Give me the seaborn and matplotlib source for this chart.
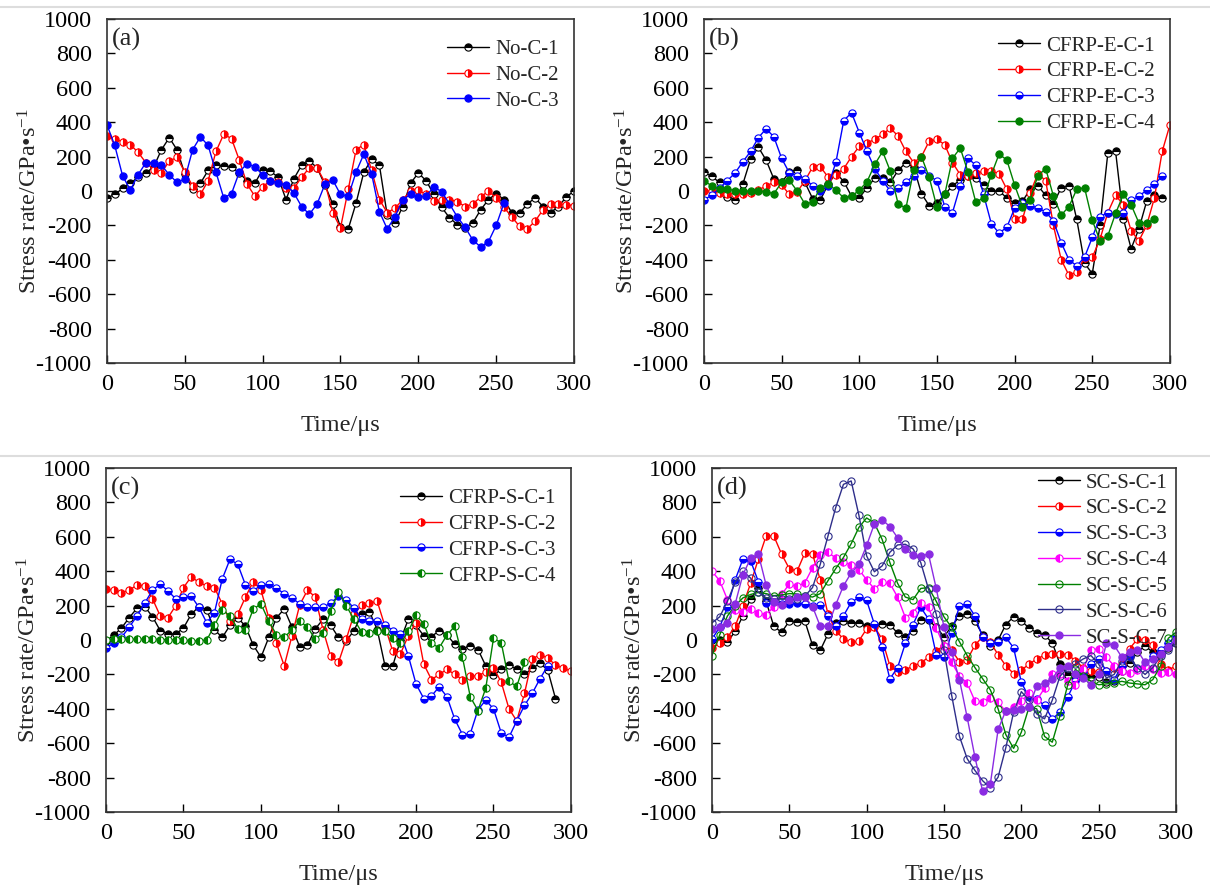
import numpy as np
import seaborn as sns
import matplotlib.pyplot as plt
from matplotlib.lines import Line2D

nan = np.nan

### Data (5 us steps)
time_us = np.arange(0, 301, 5)

# (a) no coating
no_c_1 = [-40, -20, 15, 45, 80, 105, 140, 240, 310, 240, 100, 10, 45, 120, 150, 145, 140, 105, 60, 45,
          125, 115, 80, -50, 70, 150, 175, 135, 35, -75, -210, -220, -70, 110, 185, 150, -140, -185, -90, 45,
          105, 60, -20, -95, -155, -195, -215, -185, -110, -50, -15, -50, -125, -130, -75, -40, -90, -125, -90, -35,
          0]
no_c_2 = [320, 300, 288, 270, 225, 165, 125, 105, 175, 195, 110, 30, -20, 60, 230, 330, 305, 180, 40, -30,
          25, 60, 55, 20, 15, 80, 135, 135, 50, -125, -215, 10, 240, 270, 120, -50, -125, -100, -50, 0,
          5, -20, -60, -55, -50, -62, -90, -75, -35, 0, -40, -95, -150, -205, -220, -175, -110, -75, -75, -80,
          -85]
no_c_3 = [385, 265, 90, 5, 95, 165, 165, 150, 95, 50, 70, 240, 315, 265, 110, -40, -15, 110, 160, 140,
          95, 60, 48, 35, -10, -90, -135, -75, 40, 65, -20, -30, 110, 215, 100, -120, -220, -150, -50, -20,
          -35, -30, 25, -5, -75, -150, -210, -285, -325, -295, -200, -70, nan, nan, nan, nan, nan, nan, nan, nan,
          nan]

# (b) CFRP-E
cfrp_e_1 = [110, 85, 50, -35, -55, 40, 185, 255, 180, 70, 50, 110, 125, 50, -45, -50, 40, 105, 55, -30,
            -40, 20, 75, 75, 50, 120, 165, 140, -15, -85, -70, -20, 30, 65, 90, 75, 35, 0, 0, -40,
            -72, -60, 10, 30, -25, -75, 20, 30, -165, -420, -480, -200, 220, 230, -160, -335, -220, -60, -25, -40,
            nan]
cfrp_e_2 = [0, 0, -10, -15, -15, -15, -10, 5, 30, 50, 35, -20, -5, 60, 140, 140, 80, 95, 130, 200,
            260, 280, 300, 330, 365, 320, 230, 165, 200, 290, 300, 270, 165, 95, 85, 103, 115, 115, 100, 10,
            -160, -165, -10, 100, 60, -200, -400, -490, -470, -390, -385, -280, -125, -25, -80, -230, -290, -200, -40, 230,
            385]
cfrp_e_3 = [-50, -25, 15, 60, 105, 170, 230, 310, 362, 315, 190, 105, 90, 72, 30, 0, 30, 170, 410, 455,
            340, 230, 130, 60, 0, 15, 50, 90, 125, 90, 58, -90, -125, 30, 190, 150, -20, -190, -245, -210,
            -100, -70, -85, -100, -120, -175, -300, -400, -435, -385, -270, -150, -125, -135, -125, -55, -30, 5, 40, 85,
            nan]
cfrp_e_4 = [60, 30, 12, 10, 3, 0, 0, 0, -5, -15, 50, 62, 0, -75, -65, 20, 40, 5, -40, -30,
            5, 55, 155, 230, 115, -75, -100, 120, 200, 80, -95, -20, 190, 250, 110, -65, -40, 95, 215, 180,
            35, -90, -50, 90, 130, -30, -140, -90, 10, 20, -170, -290, -260, -130, -20, -80, -185, -185, -165, nan,
            nan]

# (c) CFRP-S
cfrp_s_1 = [-5, 28, 70, 130, 185, 195, 135, 55, 35, 35, 70, 150, 195, 175, 60, 15, 85, 130, 80, -30,
            -100, 15, 130, 180, 75, -40, -30, 65, 120, 85, 15, -5, 55, 150, 165, 60, -150, -150, 0, 120,
            85, 25, 20, 55, 30, -25, -50, -35, -55, -150, -205, -170, -145, -170, -200, -165, -135, -175, -340, nan,
            nan]
cfrp_s_2 = [295, 290, 276, 290, 320, 315, 240, 140, 130, 200, 305, 368, 335, 315, 305, 210, 110, 150, 250, 340,
            290, 130, -20, -150, 25, 205, 290, 250, 60, -95, -130, 5, 150, 205, 215, 225, 80, -65, -80, 25,
            100, -140, -230, -200, -170, -200, -230, -210, -208, -185, -160, -245, -400, -470, -310, -110, -85, -105, -145, -165,
            -180]
cfrp_s_3 = [-45, -18, 15, 75, 140, 215, 290, 325, 285, 240, 252, 255, 190, 100, 160, 355, 470, 440, 320, 285,
            320, 325, 300, 270, 245, 210, 190, 190, 190, 215, 255, 235, 185, 120, 110, 110, 90, 55, 35, -90,
            -255, -340, -325, -272, -330, -460, -550, -545, -405, -350, -400, -540, -565, -470, -380, -310, -225, -150, nan, nan,
            nan]
cfrp_s_4 = [0, 5, 5, 5, 5, 5, 5, 3, 3, 0, 0, -5, -5, 0, 85, 175, 140, 65, 60, 180,
            210, 110, 30, 15, 60, 110, 75, 5, 40, 170, 280, 200, 120, 45, 40, 50, 55, 10, -20, 50,
            145, 95, -20, -45, 30, 80, -100, -330, -410, -280, 10, -15, -240, -270, -130, nan, nan, nan, nan, nan,
            nan]

# (d) SC-S
sc_s_1 = [0, 2, -10, 50, 140, 240, 300, 225, 80, 45, 110, 105, 112, -30, -60, 35, 102, 110, 102, 100,
          80, 85, 95, 90, 40, 15, 55, 115, 115, 75, 20, 80, 140, 150, 110, 30, -35, 0, 90, 135,
          112, 70, 42, 28, -15, -140, -205, -225, -200, -212, -215, -245, -240, -180, -135, -70, -35, -70, -80, -45,
          -20]
sc_s_2 = [-45, -20, 15, 80, 200, 330, 470, 605, 605, 500, 415, 400, 505, 500, 350, 150, 55, 6, -14, -5,
          65, 78, 5, -149, -188, -175, -150, -133, -100, -62, -33, -60, -125, -115, -30, 20, -14, -85, -150, -195,
          -175, -140, -110, -88, -80, -80, -85, -120, -160, -180, -185, -180, -160, -140, -50, 5, 0, -30, -140, -175,
          -150]
sc_s_3 = [5, 75, 190, 350, 470, 460, 340, 215, 219, 209, 212, 217, 209, 200, 205, 140, 83, 141, 219, 248,
          230, 93, -40, -226, -160, -20, 90, 190, 122, -85, -100, 40, 199, 210, 140, 15, -20, -10, 15, -45,
          -246, -333, -345, -380, -458, -420, -330, -240, -188, -140, -110, -180, -230, -150, -90, -170, -150, -90, -60, -20,
          25]
sc_s_4 = [400, 345, 235, 175, 165, 178, 160, 145, 195, 265, 325, 312, 332, 420, 495, 509, 478, 455, 437, 410,
          350, 298, 335, 330, 250, 131, 160, 215, 190, 70, -35, -130, -210, -250, -355, -358, -338, -362, -415, -390,
          -355, -310, -350, -280, -200, -195, -240, -260, -170, -60, -50, -100, -150, -180, -190, -175, -150, -170, -190, -185,
          -200]
sc_s_5 = [-90, 30, 140, 200, 245, 265, 277, 270, 258, 262, 270, 268, 258, 250, 270, 345, 415, 480, 560, 655,
          710, 680, 585, 451, 330, 250, 235, 300, 305, 225, 135, 73, -10, -90, -160, -225, -290, -400, -550, -630,
          -536, -390, -400, -560, -594, -440, -260, -170, -210, -240, -260, -255, -250, -240, -250, -255, -260, -230, -150, 10,
          45]
sc_s_6 = [100, 135, 225, 335, 400, 360, 277, 246, 238, 238, 238, 240, 255, 305, 440, 605, 770, 905, 925, 725,
          489, 397, 431, 510, 553, 557, 530, 450, 296, 150, -60, -323, -560, -690, -758, -818, -860, -797, -625, -420,
          -300, -350, -430, -458, -350, -210, -165, -140, -110, -90, -140, -220, -200, -120, -100, -160, -200, -160, -95, -60,
          -20]
sc_s_7 = [64, 75, 100, 210, 380, 475, 500, 320, 220, 205, 235, 248, 250, 195, 80, 80, 205, 315, 390, 440,
          550, 675, 700, 660, 595, 528, 492, 490, 499, 300, 75, -72, -230, -450, -680, -880, -835, -520, -410, -405,
          -400, -392, -265, -250, -225, -160, -150, -200, -220, -260, -200, -20, -30, -100, -70, -60, -130, -110, -80, -40,
          0]

x_ticks = np.arange(0, 301, 50)
y_ticks = np.arange(-1000, 1001, 200)

### Styling
sns.set_theme(style='ticks')
plt.rcParams['font.family'] = ['Liberation Serif', 'DejaVu Serif']
plt.rcParams['mathtext.fontset'] = 'custom'
plt.rcParams['mathtext.rm'] = 'Liberation Serif'
plt.rcParams['mathtext.it'] = 'Liberation Serif:italic'
plt.rcParams['axes.unicode_minus'] = False

# letter, axes rect, legend anchor, series
panels = [
    ('(a)', [0.0884, 0.5921, 0.3860, 0.3865], (0.985, 0.965), [
        ('No-C-1', no_c_1, 'black', 'top'),
        ('No-C-2', no_c_2, 'red', 'right'),
        ('No-C-3', no_c_3, 'blue', 'full'),
    ]),
    ('(b)', [0.5818, 0.5921, 0.3851, 0.3865], (0.985, 0.975), [
        ('CFRP-E-C-1', cfrp_e_1, 'black', 'top'),
        ('CFRP-E-C-2', cfrp_e_2, 'red', 'right'),
        ('CFRP-E-C-3', cfrp_e_3, 'blue', 'bottom'),
        ('CFRP-E-C-4', cfrp_e_4, 'green', 'full'),
    ]),
    ('(c)', [0.0876, 0.0876, 0.3843, 0.3865], (0.985, 0.965), [
        ('CFRP-S-C-1', cfrp_s_1, 'black', 'top'),
        ('CFRP-S-C-2', cfrp_s_2, 'red', 'right'),
        ('CFRP-S-C-3', cfrp_s_3, 'blue', 'bottom'),
        ('CFRP-S-C-4', cfrp_s_4, 'green', 'left'),
    ]),
    ('(d)', [0.5884, 0.0876, 0.3835, 0.3865], (1.0, 1.01), [
        ('SC-S-C-1', sc_s_1, 'black', 'top'),
        ('SC-S-C-2', sc_s_2, 'red', 'right'),
        ('SC-S-C-3', sc_s_3, 'blue', 'bottom'),
        ('SC-S-C-4', sc_s_4, 'magenta', 'left'),
        ('SC-S-C-5', sc_s_5, 'green', 'none'),
        ('SC-S-C-6', sc_s_6, '#2e2e8a', 'none'),
        ('SC-S-C-7', sc_s_7, '#8a2be2', 'full'),
    ]),
]

fig = plt.figure(figsize=(12.1, 8.9), dpi=100)

# faint separator lines seen in the source image
for yy in [1 - 7 / 890, 1 - 456 / 890]:
    fig.add_artist(Line2D([0, 1], [yy, yy], color='#dddddd', lw=1.5))

for letter, rect, leg_anchor, series in panels:
    ax = fig.add_axes(rect)
    for name, vals, color, fs in series:
        sns.lineplot(x=time_us, y=np.array(vals, dtype=float), ax=ax, color=color, lw=1.0,
                     marker='o', markersize=5.2, fillstyle=fs, markerfacecoloralt='white',
                     markeredgecolor=color, markeredgewidth=0.8, label=name,
                     errorbar=None, sort=False)

    ax.set_xlim(0, 300)
    ax.set_ylim(-1000, 1000)
    ax.set_xticks(x_ticks)
    ax.set_yticks(y_ticks)
    ax.tick_params(direction='in', length=6, width=1, top=False, right=False,
                   labelsize=17.5, colors='black')
    ax.tick_params(axis='x', pad=8)
    ax.tick_params(axis='y', pad=11)
    for sp in ax.spines.values():
        sp.set_visible(True)
        sp.set_color('#333333')
        sp.set_linewidth(1.2)

    ax.set_xlabel('Time/μs', fontsize=17.5)
    ax.set_ylabel('Stress rate/GPa•s$^{-1}$', fontsize=17.5)
    ax.xaxis.set_label_coords(0.5, -0.15)
    ax.yaxis.set_label_coords(-0.14, 0.47)

    ax.text(0.01, 0.975, letter, transform=ax.transAxes, fontsize=19, va='top', ha='left')

    ax.legend(loc='upper right', bbox_to_anchor=leg_anchor, frameon=False, fontsize=15,
              handlelength=2.0, handletextpad=0.3, labelspacing=0.3, borderaxespad=0)

plt.savefig('out.png', dpi=100)
plt.close()
